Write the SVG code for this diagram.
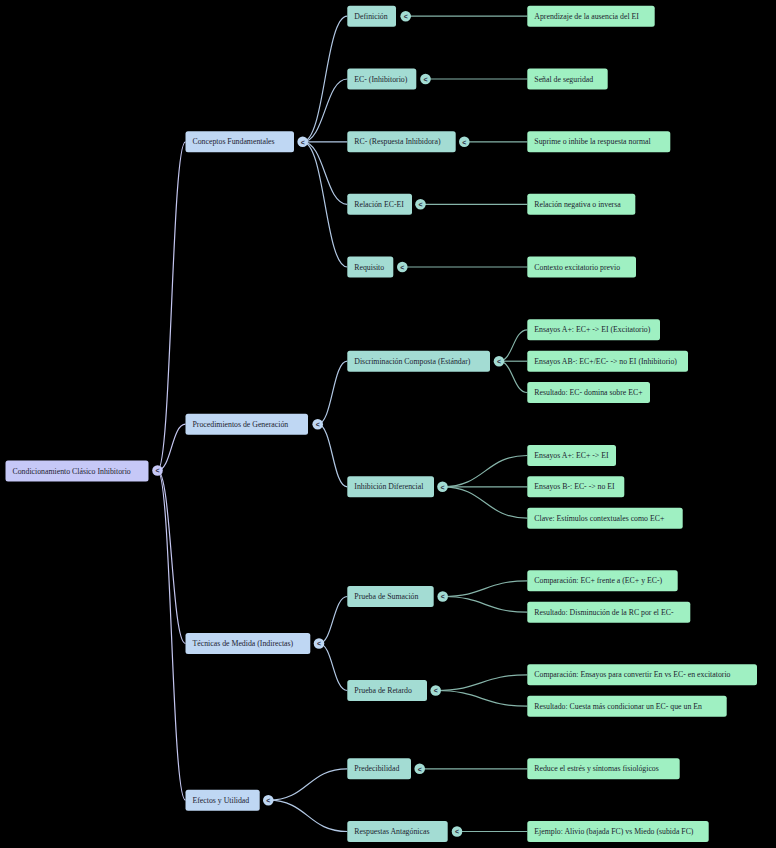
<svg xmlns="http://www.w3.org/2000/svg" width="776" height="848" viewBox="0 0 776 848">
<style>
.bg{fill:#000}
.n rect{rx:2.5px;ry:2.5px}
.r0 rect,.r0 circle{fill:#c6c8f7}
.r1 rect,.r1 circle{fill:#bfd7f3}
.r2 rect,.r2 circle{fill:#a3dcd3}
.r3 rect{fill:#9ff0c2}
text{font-family:"Liberation Serif","Times New Roman",serif;font-size:7.8px;fill:#1c1c30;dominant-baseline:central}
text.ic{font-family:"Liberation Sans",Arial,sans-serif;font-size:7px;font-weight:bold;text-anchor:middle;fill:#2a2a40}
#edges path{fill:none;stroke-width:1.2}
.e0{stroke:#c4c6f0}
.e1{stroke:#b2c8e4}
.e2{stroke:#86b4a9}
</style>
<rect class="bg" x="0" y="0" width="776" height="848"/>
<g id="edges">
<path class="e0" d="M157.5,470.5 C171.5,470.5 171.5,141.8 185.5,141.8"/>
<path class="e0" d="M157.5,470.5 C171.5,470.5 171.5,424.2 185.5,424.2"/>
<path class="e0" d="M157.5,470.5 C171.5,470.5 171.5,643.5 185.5,643.5"/>
<path class="e0" d="M157.5,470.5 C171.5,470.5 171.5,800.2 185.5,800.2"/>
<path class="e1" d="M302.7,141.8 C325,141.8 325,16.2 347.3,16.2"/>
<path class="e1" d="M302.7,141.8 C325,141.8 325,79 347.3,79"/>
<path class="e1" d="M302.7,141.8 C325,141.8 325,141.8 347.3,141.8"/>
<path class="e1" d="M302.7,141.8 C325,141.8 325,204.3 347.3,204.3"/>
<path class="e1" d="M302.7,141.8 C325,141.8 325,267 347.3,267"/>
<path class="e1" d="M317.7,424.2 C332.5,424.2 332.5,361.2 347.3,361.2"/>
<path class="e1" d="M317.7,424.2 C332.5,424.2 332.5,486.8 347.3,486.8"/>
<path class="e1" d="M319,643.5 C333,643.5 333,596.5 347.3,596.5"/>
<path class="e1" d="M319,643.5 C333,643.5 333,690.5 347.3,690.5"/>
<path class="e1" d="M268.3,800.2 C307.8,800.2 307.8,768.8 347.3,768.8"/>
<path class="e1" d="M268.3,800.2 C307.8,800.2 307.8,831.5 347.3,831.5"/>
<path class="e2" d="M405.7,16.2 L527.3,16.2"/>
<path class="e2" d="M425.5,79 L527.3,79"/>
<path class="e2" d="M464.3,141.8 L527.3,141.8"/>
<path class="e2" d="M420.5,204.3 L527.3,204.3"/>
<path class="e2" d="M402.3,267 L527.3,267"/>
<path class="e2" d="M499,361.2 C513,361.2 513,329.8 527.3,329.8"/>
<path class="e2" d="M499,361.2 L527.3,361.2"/>
<path class="e2" d="M499,361.2 C513,361.2 513,392.5 527.3,392.5"/>
<path class="e2" d="M442.5,486.8 C485,486.8 485,455.5 527.3,455.5"/>
<path class="e2" d="M442.5,486.8 L527.3,486.8"/>
<path class="e2" d="M442.5,486.8 C485,486.8 485,518.2 527.3,518.2"/>
<path class="e2" d="M442.7,596.5 C485,596.5 485,580.8 527.3,580.8"/>
<path class="e2" d="M442.7,596.5 C485,596.5 485,612.2 527.3,612.2"/>
<path class="e2" d="M435.7,690.5 C481.5,690.5 481.5,674.8 527.3,674.8"/>
<path class="e2" d="M435.7,690.5 C481.5,690.5 481.5,706.2 527.3,706.2"/>
<path class="e2" d="M419.7,768.8 L527.3,768.8"/>
<path class="e2" d="M457,831.5 L527.3,831.5"/>
</g>
<g id="root" class="n r0"><rect x="5.5" y="460.5" width="143" height="21"/><text x="12.5" y="471">Condicionamiento Clásico Inhibitorio</text><circle cx="157.5" cy="470.5" r="5.3"/><text class="ic" x="157.5" y="470.7">&lt;</text></g>

<g id="n-conceptos" class="n r1"><rect x="185.5" y="131.3" width="108.5" height="21"/><text x="192.5" y="141.8">Conceptos Fundamentales</text><circle cx="302.7" cy="141.8" r="5.3"/><text class="ic" x="302.7" y="142">&lt;</text></g>
<g id="n-procedimientos" class="n r1"><rect x="185.5" y="413.7" width="122.5" height="21"/><text x="192.5" y="424.2">Procedimientos de Generación</text><circle cx="317.7" cy="424.2" r="5.3"/><text class="ic" x="317.7" y="424.4">&lt;</text></g>
<g id="n-tecnicas" class="n r1"><rect x="185.5" y="633" width="124.8" height="21"/><text x="192.5" y="643.5">Técnicas de Medida (Indirectas)</text><circle cx="319" cy="643.5" r="5.3"/><text class="ic" x="319" y="643.7">&lt;</text></g>
<g id="n-efectos" class="n r1"><rect x="185.5" y="789.7" width="74.2" height="21"/><text x="192.5" y="800.2">Efectos y Utilidad</text><circle cx="268.3" cy="800.2" r="5.3"/><text class="ic" x="268.3" y="800.4">&lt;</text></g>

<g id="n-definicion" class="n r2"><rect x="347.3" y="5.7" width="48.7" height="21"/><text x="354.3" y="16.2">Definición</text><circle cx="405.7" cy="16.2" r="5.3"/><text class="ic" x="405.7" y="16.4">&lt;</text></g>
<g id="n-ecinh" class="n r2"><rect x="347.3" y="68.5" width="69" height="21"/><text x="354.3" y="79">EC- (Inhibitorio)</text><circle cx="425.5" cy="79" r="5.3"/><text class="ic" x="425.5" y="79.2">&lt;</text></g>
<g id="n-rcinh" class="n r2"><rect x="347.3" y="131.3" width="108.4" height="21"/><text x="354.3" y="141.8">RC- (Respuesta Inhibidora)</text><circle cx="464.3" cy="141.8" r="5.3"/><text class="ic" x="464.3" y="142">&lt;</text></g>
<g id="n-relacion" class="n r2"><rect x="347.3" y="193.8" width="64.7" height="21"/><text x="354.3" y="204.3">Relación EC-EI</text><circle cx="420.5" cy="204.3" r="5.3"/><text class="ic" x="420.5" y="204.5">&lt;</text></g>
<g id="n-requisito" class="n r2"><rect x="347.3" y="256.5" width="46" height="21"/><text x="354.3" y="267">Requisito</text><circle cx="402.3" cy="267" r="5.3"/><text class="ic" x="402.3" y="267.2">&lt;</text></g>
<g id="n-discriminacion" class="n r2"><rect x="347.3" y="350.7" width="142.7" height="21"/><text x="354.3" y="361.2">Discriminación Composta (Estándar)</text><circle cx="499" cy="361.2" r="5.3"/><text class="ic" x="499" y="361.4">&lt;</text></g>
<g id="n-inhibicion" class="n r2"><rect x="347.3" y="476.3" width="86.7" height="21"/><text x="354.3" y="486.8">Inhibición Diferencial</text><circle cx="442.5" cy="486.8" r="5.3"/><text class="ic" x="442.5" y="487">&lt;</text></g>
<g id="n-sumacion" class="n r2"><rect x="347.3" y="586" width="86.4" height="21"/><text x="354.3" y="596.5">Prueba de Sumación</text><circle cx="442.7" cy="596.5" r="5.3"/><text class="ic" x="442.7" y="596.7">&lt;</text></g>
<g id="n-retardo" class="n r2"><rect x="347.3" y="680" width="79.7" height="21"/><text x="354.3" y="690.5">Prueba de Retardo</text><circle cx="435.7" cy="690.5" r="5.3"/><text class="ic" x="435.7" y="690.7">&lt;</text></g>
<g id="n-predecibilidad" class="n r2"><rect x="347.3" y="758.3" width="63.7" height="21"/><text x="354.3" y="768.8">Predecibilidad</text><circle cx="419.7" cy="768.8" r="5.3"/><text class="ic" x="419.7" y="769">&lt;</text></g>
<g id="n-antagonicas" class="n r2"><rect x="347.3" y="821" width="100.4" height="21"/><text x="354.3" y="831.5">Respuestas Antagónicas</text><circle cx="457" cy="831.5" r="5.3"/><text class="ic" x="457" y="831.7">&lt;</text></g>

<g id="l-aprendizaje" class="n r3"><rect x="527.3" y="5.7" width="127.4" height="21"/><text x="534.3" y="16.2">Aprendizaje de la ausencia del EI</text></g>
<g id="l-senal" class="n r3"><rect x="527.3" y="68.5" width="80.4" height="21"/><text x="534.3" y="79">Señal de seguridad</text></g>
<g id="l-suprime" class="n r3"><rect x="527.3" y="131.3" width="143" height="21"/><text x="534.3" y="141.8">Suprime o inhibe la respuesta normal</text></g>
<g id="l-relneg" class="n r3"><rect x="527.3" y="193.8" width="108" height="21"/><text x="534.3" y="204.3">Relación negativa o inversa</text></g>
<g id="l-contexto" class="n r3"><rect x="527.3" y="256.5" width="108.7" height="21"/><text x="534.3" y="267">Contexto excitatorio previo</text></g>
<g id="l-ensA1" class="n r3"><rect x="527.3" y="319.3" width="132.7" height="21"/><text x="534.3" y="329.8">Ensayos A+: EC+ -&gt; EI (Excitatorio)</text></g>
<g id="l-ensAB" class="n r3"><rect x="527.3" y="350.7" width="160.7" height="21"/><text x="534.3" y="361.2">Ensayos AB-: EC+/EC- -&gt; no EI (Inhibitorio)</text></g>
<g id="l-res1" class="n r3"><rect x="527.3" y="382" width="122.7" height="21"/><text x="534.3" y="392.5">Resultado: EC- domina sobre EC+</text></g>
<g id="l-ensA2" class="n r3"><rect x="527.3" y="445" width="88.7" height="21"/><text x="534.3" y="455.5">Ensayos A+: EC+ -&gt; EI</text></g>
<g id="l-ensB" class="n r3"><rect x="527.3" y="476.3" width="97" height="21"/><text x="534.3" y="486.8">Ensayos B-: EC- -&gt; no EI</text></g>
<g id="l-clave" class="n r3"><rect x="527.3" y="507.7" width="155.4" height="21"/><text x="534.3" y="518.2">Clave: Estímulos contextuales como EC+</text></g>
<g id="l-comp1" class="n r3"><rect x="527.3" y="570.3" width="150.4" height="21"/><text x="534.3" y="580.8">Comparación: EC+ frente a (EC+ y EC-)</text></g>
<g id="l-res2" class="n r3"><rect x="527.3" y="601.7" width="163" height="21"/><text x="534.3" y="612.2">Resultado: Disminución de la RC por el EC-</text></g>
<g id="l-comp2" class="n r3"><rect x="527.3" y="664.3" width="229.7" height="21"/><text x="534.3" y="674.8">Comparación: Ensayos para convertir En vs EC- en excitatorio</text></g>
<g id="l-res3" class="n r3"><rect x="527.3" y="695.7" width="199.4" height="21"/><text x="534.3" y="706.2">Resultado: Cuesta más condicionar un EC- que un En</text></g>
<g id="l-reduce" class="n r3"><rect x="527.3" y="758.3" width="152.4" height="21"/><text x="534.3" y="768.8">Reduce el estrés y síntomas fisiológicos</text></g>
<g id="l-ejemplo" class="n r3"><rect x="527.3" y="821" width="181.4" height="21"/><text x="534.3" y="831.5">Ejemplo: Alivio (bajada FC) vs Miedo (subida FC)</text></g>
</svg>
